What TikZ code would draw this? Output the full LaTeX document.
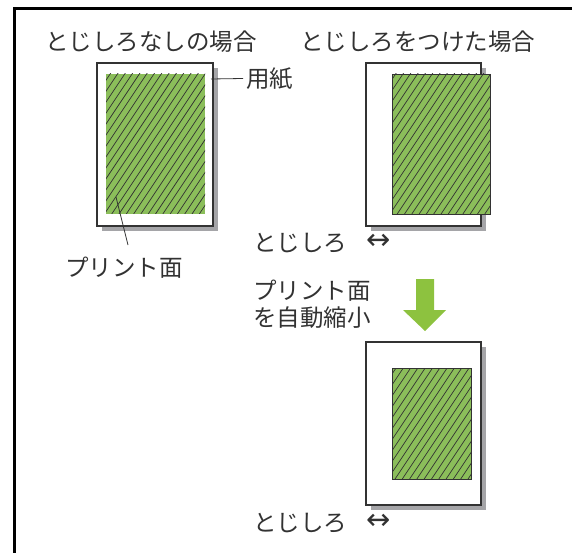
\documentclass[tikz,border=0pt]{standalone}
\usepackage{fontspec}
\setmainfont{Noto Sans CJK JP}
\newfontfamily\arrowfont{DejaVu Sans}
\usetikzlibrary{shadows,calc}
\definecolor{pgreen}{RGB}{139,190,90}
\definecolor{agreen}{RGB}{141,194,63}
\definecolor{shgray}{RGB}{165,165,168}
\definecolor{txt}{RGB}{50,50,50}
\begin{document}
\begin{tikzpicture}[x=1pt,y=-1pt,
  paper/.style={draw=black!80, fill=white, line width=1.1pt, inner sep=0pt,
    drop shadow={shadow xshift=5pt, shadow yshift=-5pt, fill=shgray, opacity=1}},
  printarea/.style={fill=pgreen, inner sep=0pt,
    path picture={
      \foreach \i in {-24,...,16}
        \draw[txt, line width=0.7pt]
          ($(path picture bounding box.south)+(\i*7.3pt,0pt)$) -- ++(100pt,150pt);
    }},
  printborder/.style={printarea, draw=black!80, line width=0.9pt},
  lbl/.style={font=\fontsize{23.5}{26}\selectfont, text=txt, inner sep=0pt, anchor=west},
  arr/.style={font=\arrowfont\fontsize{29}{30}\selectfont, text=txt, inner sep=0pt, anchor=west},
  leader/.style={draw=txt, line width=0.8pt}
]
\useasboundingbox (0,0) rectangle (572,553);
% frame
\draw[line width=3.3pt] (14.5,553) -- (14.5,8.5) -- (572,8.5);

% titles
\node[lbl] (t1) at (45,42) {とじしろなしの場合};
\node[lbl] (t2) at (300,42) {とじしろをつけた場合};

% page 1 (no margin)
\node[paper, minimum width=116pt, minimum height=163pt] (p1) at (155,144.5) {};
\node[printarea, minimum width=99pt, minimum height=140pt] (g1) at (155.5,144) {};
\node[lbl] (yoshi) at (246,78.5) {用紙};
\coordinate (y1) at (211,79);
\draw[leader] (y1) -- ([xshift=-3pt]yoshi.west);
\node[lbl] (pm1) at (65,268) {プリント面};
\coordinate (c1) at (116,197);
\coordinate (c2) at (128,245);
\draw[leader] (c1) -- (c2);

% page 2 (with margin)
\node[paper, minimum width=115pt, minimum height=163pt] (p2) at (423.5,144.5) {};
\node[printborder, minimum width=98pt, minimum height=140pt] (g2) at (441,144) {};
\node[lbl] (m1) at (253,243) {とじしろ};
\node[arr] (a1) at (366,242) {↔};

% arrow
\node[lbl] (s1) at (253,291) {プリント面};
\node[lbl] (s2) at (253,318) {を自動縮小};
\fill[agreen] (416,279) -- (434,279) -- (434,310) -- (446,310) -- (425,331)
  -- (403,310) -- (416,310) -- cycle;

% page 3 (reduced)
\node[paper, minimum width=115pt, minimum height=163pt] (p3) at (423.5,423.5) {};
\node[printborder, minimum width=79pt, minimum height=111pt] (g3) at (431.5,423.5) {};
\node[lbl] (m2) at (253,523) {とじしろ};
\node[arr] (a2) at (366,522) {↔};
\end{tikzpicture}
\end{document}
